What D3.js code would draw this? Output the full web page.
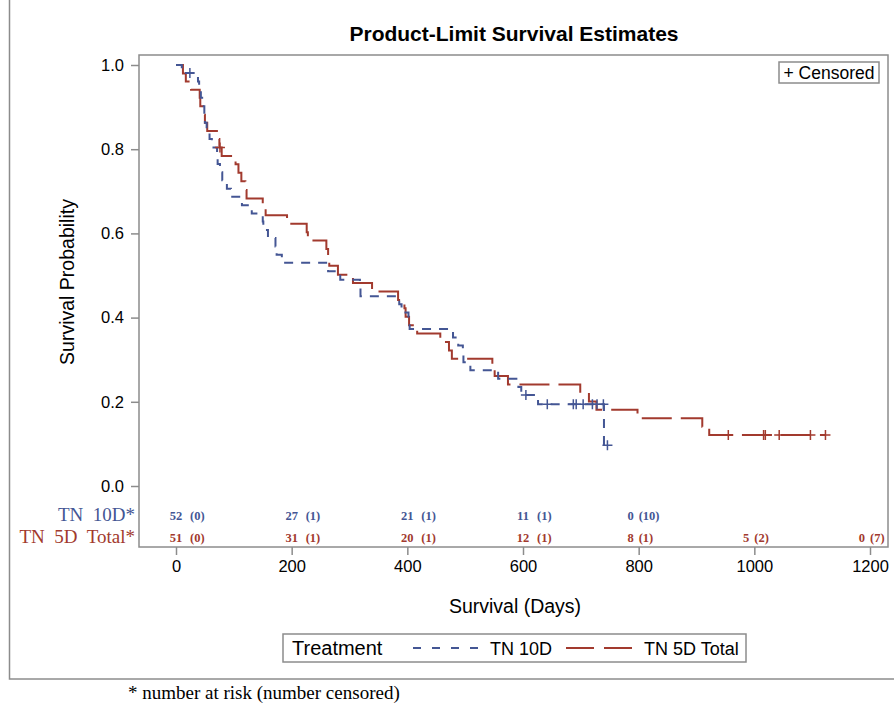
<!DOCTYPE html>
<html>
<head>
<meta charset="utf-8">
<script src="https://cdn.jsdelivr.net/npm/d3@7"></script>
<style>
  body { margin: 0; background: #fff; }
  svg { display: block; }
</style>
</head>
<body>
<svg id="chart" width="894" height="706"></svg>
<script>
// step points [days, survival]
var tn10dSteps = [
  [0, 1], [10, 0.981], [38, 0.961], [40, 0.942], [43, 0.922], [48, 0.902], [49, 0.883],
  [50, 0.863], [53, 0.844], [58, 0.824], [62, 0.804], [71, 0.785], [72, 0.765], [76, 0.745],
  [80, 0.726], [88, 0.706], [95, 0.687], [114, 0.667], [131, 0.647], [150, 0.628], [151, 0.608],
  [159, 0.589], [172, 0.569], [174, 0.549], [183, 0.530], [263, 0.510], [284, 0.490], [318, 0.471],
  [319, 0.451], [386, 0.432], [390, 0.412], [402, 0.392], [404, 0.373], [479, 0.353], [488, 0.334],
  [496, 0.314], [497, 0.294], [509, 0.275], [557, 0.255], [592, 0.235], [597, 0.216], [626, 0.194],
  [740, 0.097], [746, 0.097]
];
var tn10dCensored = [
  [24, 0.981], [605, 0.216], [642, 0.194], [687, 0.194], [692, 0.194], [704, 0.194],
  [720, 0.194], [728, 0.194], [739, 0.194], [746, 0.097]
];

var tn5dSteps = [
  [0, 1], [12, 0.980], [17, 0.961], [26, 0.941], [41, 0.922], [42, 0.902], [47, 0.882],
  [50, 0.863], [54, 0.843], [73, 0.824], [75, 0.804], [79, 0.784], [103, 0.764], [108, 0.744],
  [113, 0.724], [120, 0.703], [122, 0.683], [150, 0.663], [155, 0.643], [192, 0.623], [226, 0.603],
  [228, 0.583], [260, 0.563], [263, 0.543], [265, 0.523], [280, 0.502], [306, 0.482], [339, 0.462],
  [384, 0.442], [395, 0.422], [397, 0.402], [403, 0.382], [417, 0.362], [457, 0.342], [472, 0.322],
  [477, 0.302], [547, 0.281], [551, 0.261], [574, 0.241], [699, 0.221], [714, 0.201], [727, 0.181],
  [798, 0.161], [910, 0.141], [922, 0.121], [1123, 0.121]
];
var tn5dCensored = [
  [76, 0.804], [955, 0.121], [1016, 0.121], [1019, 0.121], [1043, 0.121], [1097, 0.121], [1123, 0.121]
];

// number at risk table
var riskTimes = [0, 200, 400, 600, 800, 1000, 1200];
var tn10dAtRisk = [52, 27, 21, 11, 0];
var tn10dCens = [0, 1, 1, 1, 10];
var tn5dAtRisk = [51, 31, 20, 12, 8, 5, 0];
var tn5dCens = [0, 1, 1, 1, 1, 2, 7];

var xTicks = [0, 200, 400, 600, 800, 1000, 1200];
var yTicks = [0, 0.2, 0.4, 0.6, 0.8, 1.0];

var blue = '#445694', red = '#A23A2E', frameCol = '#8c8c8c';
var sans = '"Liberation Sans", Arial, sans-serif';
var serif = '"Liberation Serif", "Times New Roman", serif';

var svg = d3.select('#chart');

var frame = { left: 139, right: 888, top: 55, bottom: 547 };
var x = d3.scaleLinear().domain([0, 1200]).range([176, 870]);
var y = d3.scaleLinear().domain([0, 1]).range([486, 65]);

// outer border
svg.append('rect')
  .attr('x', 9.5).attr('y', -5).attr('width', 900).attr('height', 684)
  .attr('fill', 'none').attr('stroke', frameCol).attr('stroke-width', 1.5);

// title
svg.append('text')
  .attr('x', 514).attr('y', 41)
  .attr('text-anchor', 'middle')
  .style('font-family', sans).style('font-weight', 'bold').style('font-size', '21px')
  .text('Product-Limit Survival Estimates');

// plot frame
svg.append('rect')
  .attr('x', frame.left).attr('y', frame.top)
  .attr('width', frame.right - frame.left).attr('height', frame.bottom - frame.top)
  .attr('fill', 'none').attr('stroke', frameCol).attr('stroke-width', 1.5);

// y axis
var yAxis = d3.axisLeft(y).tickValues(yTicks).tickFormat(d3.format('.1f')).tickSizeOuter(0).tickSize(8).tickPadding(7);
var gy = svg.append('g').attr('transform', 'translate(' + frame.left + ',0)').call(yAxis);
gy.select('.domain').remove();
gy.selectAll('line').attr('stroke', frameCol).attr('stroke-width', 1.5);
gy.selectAll('text').style('font-family', sans).style('font-size', '16.5px').attr('fill', '#000');

// x axis
var xAxis = d3.axisBottom(x).tickValues(xTicks).tickFormat(d3.format('d')).tickSizeOuter(0).tickSize(8).tickPadding(5);
var gx = svg.append('g').attr('transform', 'translate(0,' + frame.bottom + ')').call(xAxis);
gx.select('.domain').remove();
gx.selectAll('line').attr('stroke', frameCol).attr('stroke-width', 1.5);
gx.selectAll('text').style('font-family', sans).style('font-size', '16.5px').attr('fill', '#000');

// axis labels
svg.append('text')
  .attr('x', 515).attr('y', 613).attr('text-anchor', 'middle')
  .style('font-family', sans).style('font-size', '19.5px')
  .text('Survival (Days)');
svg.append('text')
  .attr('transform', 'translate(74,282) rotate(-90)').attr('text-anchor', 'middle')
  .style('font-family', sans).style('font-size', '19.5px')
  .text('Survival Probability');

// survival curves
var line = d3.line()
  .x(function(d) { return x(d[0]); })
  .y(function(d) { return y(d[1]); })
  .curve(d3.curveStepAfter);

svg.append('path').datum(tn5dSteps)
  .attr('d', line).attr('fill', 'none')
  .attr('stroke', red).attr('stroke-width', 2).attr('stroke-dasharray', '30,9');
svg.append('path').datum(tn10dSteps)
  .attr('d', line).attr('fill', 'none')
  .attr('stroke', blue).attr('stroke-width', 2).attr('stroke-dasharray', '9,8');

function plus(d) {
  var px = x(d[0]), py = y(d[1]);
  return 'M' + (px - 5) + ',' + py + 'H' + (px + 5) + 'M' + px + ',' + (py - 5) + 'V' + (py + 5);
}
svg.selectAll('.c5').data(tn5dCensored).enter().append('path')
  .attr('class', 'c5').attr('d', plus)
  .attr('stroke', red).attr('stroke-width', 1.5).attr('fill', 'none');
svg.selectAll('.c10').data(tn10dCensored).enter().append('path')
  .attr('class', 'c10').attr('d', plus)
  .attr('stroke', blue).attr('stroke-width', 1.5).attr('fill', 'none');

// censored legend box
var cbox = svg.append('g');
cbox.append('rect').attr('x', 779).attr('y', 62).attr('width', 100).attr('height', 21)
  .attr('fill', '#fff').attr('stroke', frameCol).attr('stroke-width', 1.5);
cbox.append('text').attr('x', 829).attr('y', 79).attr('text-anchor', 'middle')
  .style('font-family', sans).style('font-size', '17.5px').text('+ Censored');

// at-risk table
function riskRow(counts, cens, color, rowY, label) {
  svg.append('text')
    .attr('x', 135).attr('y', rowY).attr('text-anchor', 'end')
    .attr('xml:space', 'preserve')
    .style('font-family', serif).style('font-size', '19px').attr('fill', color)
    .text(label);
  var g = svg.append('g').attr('fill', color)
    .style('font-family', serif).style('font-size', '12.5px').style('font-weight', 'bold');
  counts.forEach(function(n, i) {
    var tx = x(riskTimes[i]);
    var two = n >= 10;
    g.append('text')
      .attr('x', two ? tx : tx - 5).attr('y', rowY - 1)
      .attr('text-anchor', two ? 'middle' : 'end')
      .text(n);
    g.append('text')
      .attr('x', two ? tx + 14 : tx).attr('y', rowY - 1)
      .text('(' + cens[i] + ')');
  });
}
riskRow(tn10dAtRisk, tn10dCens, blue, 521, 'TN  10D*');
riskRow(tn5dAtRisk, tn5dCens, red, 543, 'TN  5D  Total*');

// treatment legend
var lg = svg.append('g');
lg.append('rect').attr('x', 283).attr('y', 634).attr('width', 463).attr('height', 28)
  .attr('fill', '#fff').attr('stroke', frameCol).attr('stroke-width', 1.5);
lg.append('text').attr('x', 292).attr('y', 655)
  .style('font-family', sans).style('font-size', '20px').text('Treatment');
lg.append('line').attr('x1', 413).attr('x2', 479).attr('y1', 648).attr('y2', 648)
  .attr('stroke', blue).attr('stroke-width', 2).attr('stroke-dasharray', '8,11');
lg.append('text').attr('x', 490).attr('y', 655)
  .style('font-family', sans).style('font-size', '18px').text('TN 10D');
lg.append('line').attr('x1', 566).attr('x2', 632).attr('y1', 648).attr('y2', 648)
  .attr('stroke', red).attr('stroke-width', 2).attr('stroke-dasharray', '28,10');
lg.append('text').attr('x', 644).attr('y', 655)
  .style('font-family', sans).style('font-size', '18px').text('TN 5D Total');

// footnote
svg.append('text').attr('x', 128).attr('y', 699)
  .style('font-family', serif).style('font-size', '19px')
  .text('* number at risk (number censored)');
</script>
</body>
</html>
